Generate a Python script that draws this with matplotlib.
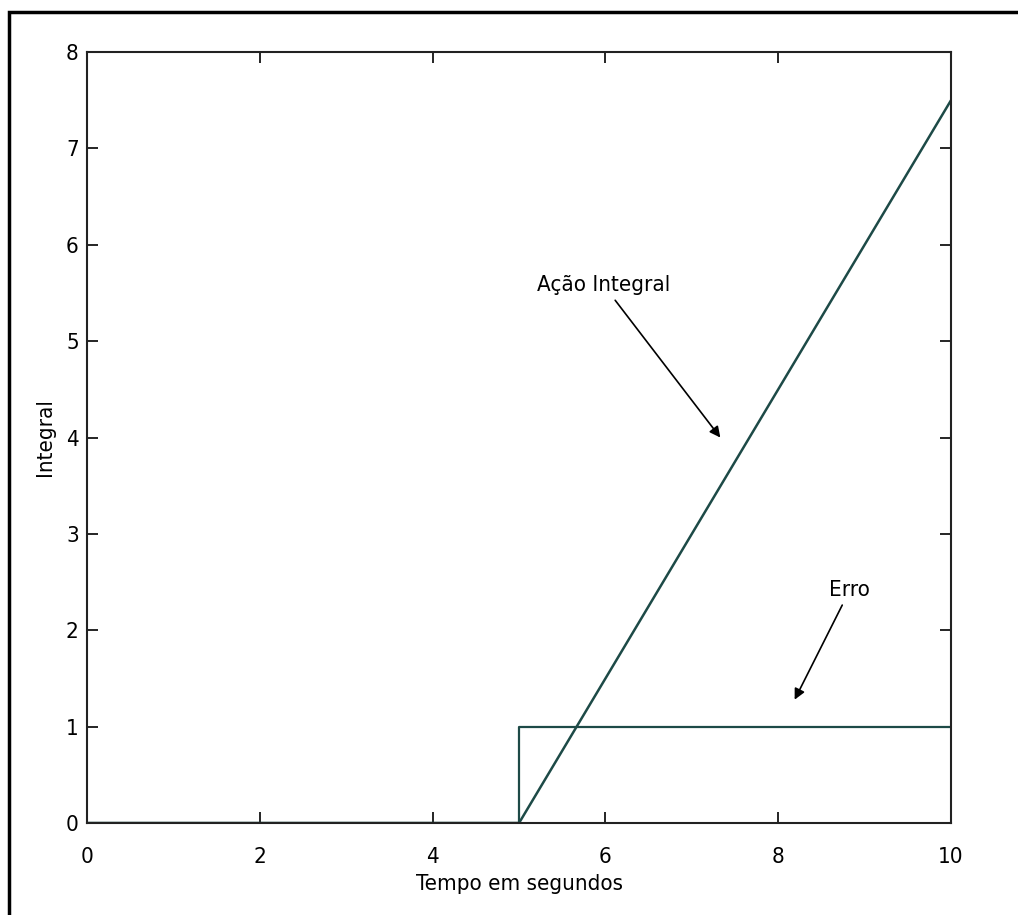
import matplotlib.pyplot as plt
from matplotlib.patches import Rectangle

# step error and its integral
t_erro = [0, 5, 5, 10]
erro = [0, 0, 1, 1]
t_int = [0, 5, 10]
integral = [0, 0, 7.5]

xticks = [0, 2, 4, 6, 8, 10]
yticks = [0, 1, 2, 3, 4, 5, 6, 7, 8]

plt.rcParams['font.family'] = ['Liberation Sans Narrow', 'DejaVu Sans']
plt.rcParams['font.stretch'] = 'condensed'

fig = plt.figure(figsize=(10.18, 9.15), dpi=100)
ax = fig.add_axes((0.0855, 0.1005, 0.8487, 0.8426))

line_color = '#1d4a47'
ax.plot(t_erro, erro, color=line_color, lw=1.6)
ax.plot(t_int, integral, color=line_color, lw=1.8)

ax.set_xlim(0, 10)
ax.set_ylim(0, 8)
ax.set_xticks(xticks)
ax.set_yticks(yticks)
ax.tick_params(direction='in', top=True, right=True, length=8, width=1.2,
               labelsize=16)
ax.tick_params(axis='x', pad=17)
ax.tick_params(axis='y', pad=6)
for s in ax.spines.values():
    s.set_linewidth(1.5)
    s.set_color('#222222')

ax.set_xlabel('Tempo em segundos', fontsize=16, labelpad=5)
ax.set_ylabel('Integral', fontsize=16, labelpad=8)

ax.annotate('Ação Integral', xy=(7.33, 4.0), xytext=(5.98, 5.58),
            fontsize=16, ha='center', va='center',
            arrowprops=dict(arrowstyle='-|>', color='black', lw=1.2,
                            shrinkA=2, shrinkB=0))
ax.annotate('Erro', xy=(8.19, 1.28), xytext=(8.83, 2.42),
            fontsize=16, ha='center', va='center',
            arrowprops=dict(arrowstyle='-|>', color='black', lw=1.2,
                            shrinkA=2, shrinkB=0))

# outer frame of the scanned figure
fig.patches.append(Rectangle((9 / 1018, -0.05), 1.2, 1 - 12 / 915 + 0.05,
                             transform=fig.transFigure, fill=False,
                             edgecolor='black', lw=2.5))

fig.savefig('out.png', dpi=100)
